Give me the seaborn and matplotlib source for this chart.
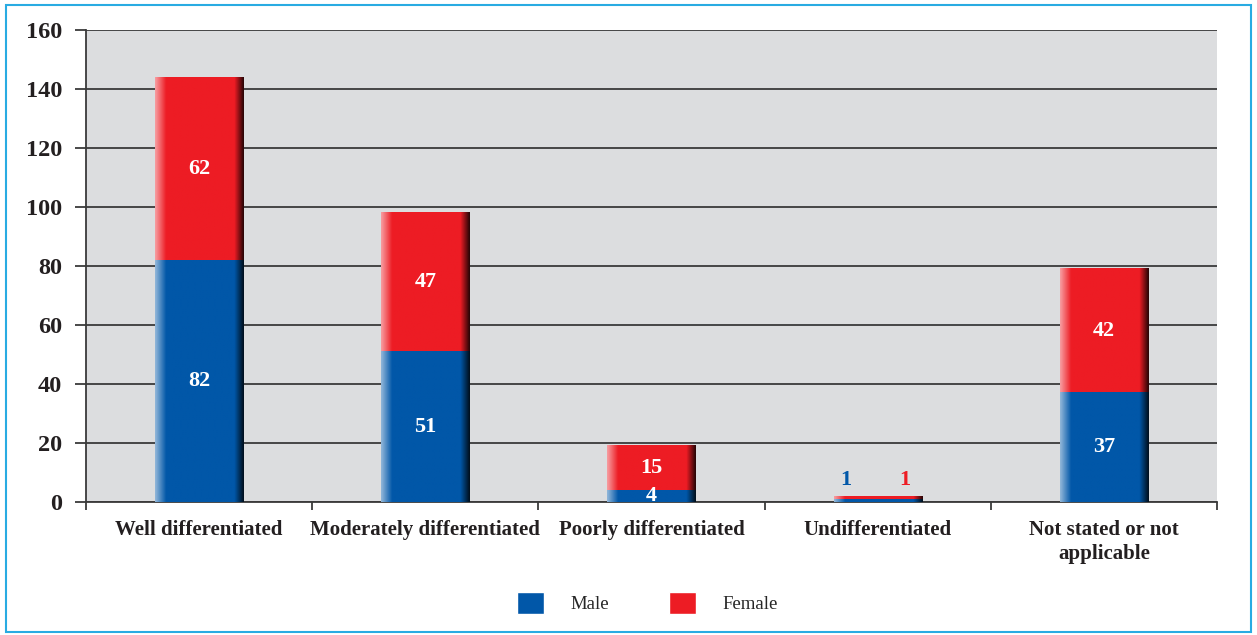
"""
Stacked bar chart: tumour differentiation by sex.
"""
import pandas as pd
import numpy as np
import matplotlib.pyplot as plt
import seaborn as sns
from matplotlib.patches import Patch, Rectangle
from matplotlib.colors import to_rgb

# Data
categories = ["Well differentiated", "Moderately differentiated", "Poorly differentiated",
              "Undifferentiated", "Not stated or not\napplicable"]
male = [82, 51, 4, 1, 37]
female = [62, 47, 15, 1, 42]
y_ticks = [0, 20, 40, 60, 80, 100, 120, 140, 160]

BLUE = "#0157A8"
RED = "#ED1C24"
BG = "#DCDDDF"

sns.set_theme(style="white")
plt.rcParams["font.family"] = ["Liberation Serif", "DejaVu Serif"]

df = pd.DataFrame({"category": categories, "male": male, "female": female})
df["total"] = df["male"] + df["female"]

fig = plt.figure(figsize=(12.57, 6.35), dpi=100)
ax = fig.add_axes([0.0684, 0.2094, 0.8998, 0.7434])
ax.set_facecolor(BG)

# totals in red, then male in blue on top -> stacked look
sns.barplot(data=df, x="category", y="total", color=RED, width=0.39,
            saturation=1, linewidth=0, ax=ax, zorder=3)
sns.barplot(data=df, x="category", y="male", color=BLUE, width=0.39,
            saturation=1, linewidth=0, ax=ax, zorder=4)


def shade_bar(ax, bar):
    # light left edge, dark right edge, like the bevelled bars in the original
    x0, y0 = bar.get_x(), bar.get_y()
    w, h = bar.get_width(), bar.get_height()
    if h <= 0:
        return
    base = np.array(to_rgb(bar.get_facecolor()))
    t = np.linspace(0, 1, 60)
    light = np.clip((0.12 - t) / 0.12, 0, 1) * 0.55
    dark = np.clip((t - 0.9) / 0.1, 0, 1) * 0.8
    row = base * (1 - light[:, None]) + light[:, None]
    row = row * (1 - dark[:, None])
    img = np.repeat(row[None, :, :], 2, axis=0)
    ax.imshow(img, extent=(x0, x0 + w, y0, y0 + h), aspect="auto",
              zorder=bar.get_zorder() + 0.1, interpolation="bilinear")


for bar in list(ax.patches):
    shade_bar(ax, bar)

# value labels
for i, row in df.iterrows():
    if row["category"] == "Undifferentiated":
        ax.text(i - 0.14, row["total"] + 2.0, str(row["male"]), color=BLUE,
                ha="center", va="bottom", fontsize=16, fontweight="bold", zorder=6)
        ax.text(i + 0.12, row["total"] + 2.0, str(row["female"]), color=RED,
                ha="center", va="bottom", fontsize=16, fontweight="bold", zorder=6)
        continue
    ax.text(i, row["male"] / 2, str(row["male"]), color="white",
            ha="center", va="center", fontsize=16, fontweight="bold", zorder=6)
    ax.text(i, row["male"] + row["female"] / 2, str(row["female"]), color="white",
            ha="center", va="center", fontsize=16, fontweight="bold", zorder=6)

ax.set_ylim(0, 160)
ax.set_xlim(-0.5, len(categories) - 0.5)
ax.set_yticks(y_ticks)
ax.set_yticklabels([str(t) for t in y_ticks], fontsize=17.5, fontweight="bold", color="#231F20")
ax.yaxis.grid(True, color="#3a3a3a", linewidth=1.3, zorder=1)
ax.set_axisbelow(True)
ax.tick_params(axis="y", length=8, width=1.3, color="#3a3a3a", pad=9, left=True)

ax.set_xticks(range(len(categories)))
ax.set_xticklabels(categories, fontsize=15, fontweight="bold", color="#231F20",
                   linespacing=1.25)
ax.tick_params(axis="x", length=0, pad=13)
ax.set_xticks(np.arange(-0.5, len(categories), 1.0), minor=True)
ax.tick_params(axis="x", which="minor", length=6, width=1.3, color="#3a3a3a", bottom=True)
ax.set_xlabel("")
ax.set_ylabel("")

for side in ["top", "right"]:
    ax.spines[side].set_visible(False)
for side in ["left", "bottom"]:
    ax.spines[side].set_color("#3a3a3a")
    ax.spines[side].set_linewidth(1.3)

handles = [Patch(facecolor=BLUE, label="Male"), Patch(facecolor=RED, label="Female")]
fig.legend(handles=handles, loc="center", bbox_to_anchor=(0.515, 0.05), ncol=2,
           frameon=False, fontsize=13.5, handlelength=1.45, handleheight=1.45,
           handletextpad=1.4, columnspacing=3.2)

# light blue frame around the figure
fig.patches.append(Rectangle((0.005, 0.004), 0.99, 0.988, transform=fig.transFigure,
                             fill=False, edgecolor="#29ABE2", linewidth=1.5))

fig.savefig("out.png", dpi=100)
